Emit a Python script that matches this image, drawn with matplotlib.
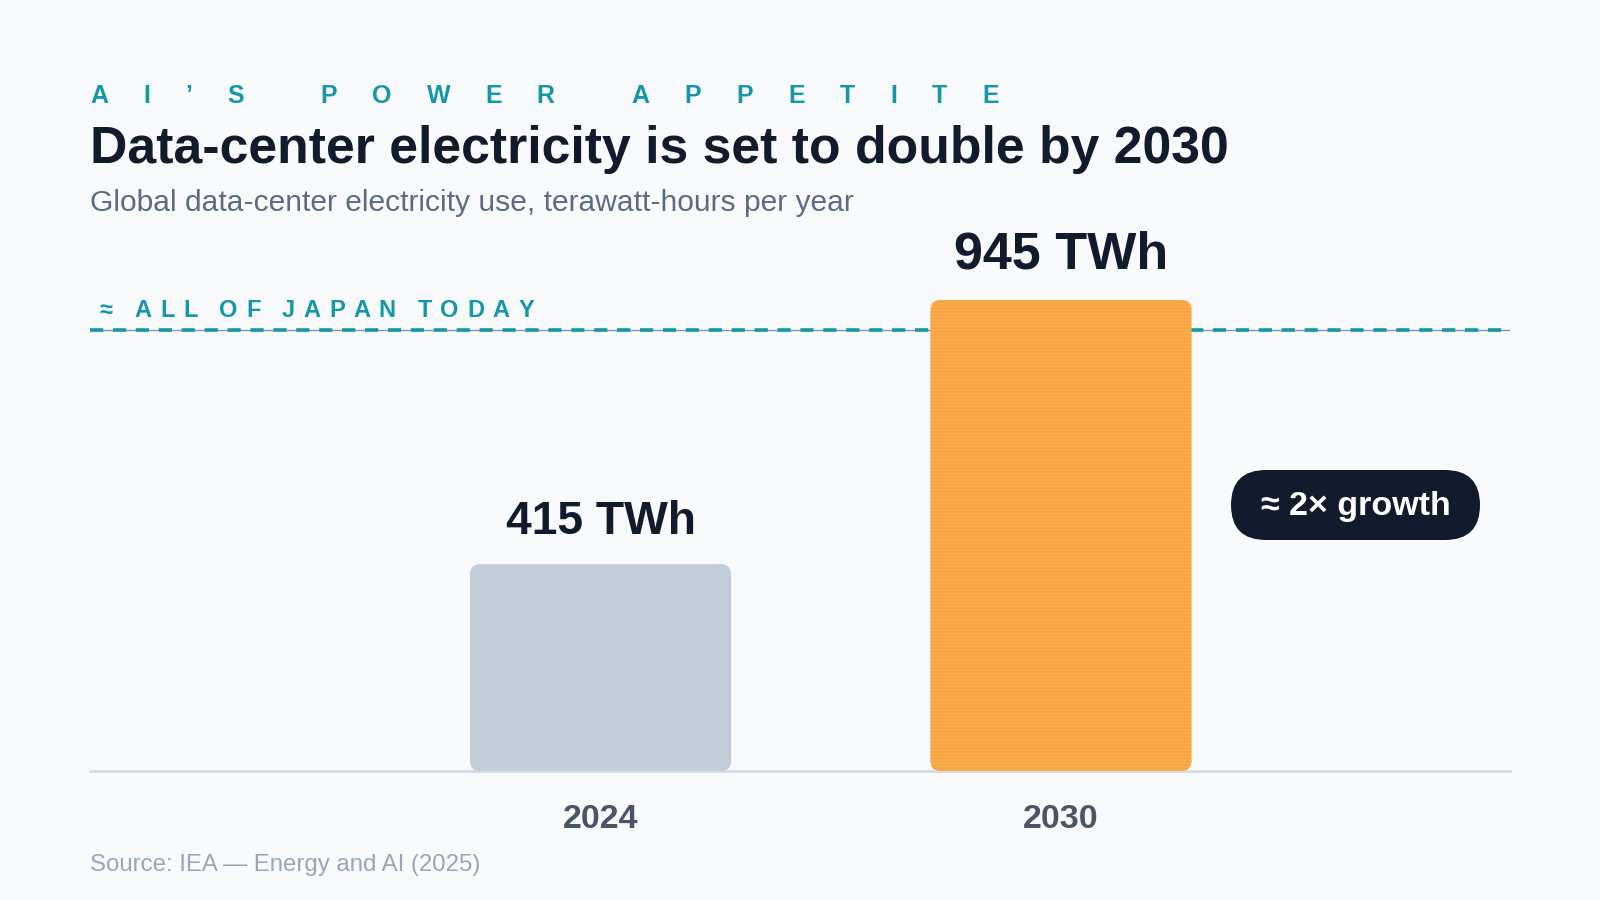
import matplotlib
matplotlib.use("Agg")
from matplotlib import pyplot as plt
from matplotlib.patches import FancyBboxPatch
from matplotlib.transforms import IdentityTransform

# data
years = ["2024", "2030"]
twh = [415, 945]
bar_colors = ["#C3CCD9", "#F8AB48"]
value_labels = ["415 TWh", "945 TWh"]
japan_twh = 885

plt.rcParams['font.family'] = ['Liberation Sans', 'DejaVu Sans']
plt.rcParams['hatch.linewidth'] = 0.6
plt.rcParams['lines.scale_dashes'] = False

W, H = 1600, 900
BG = "#F8FAFC"
TEAL = "#1497A8"
DARK = "#111B2B"

f = plt.figure(figsize=(16, 9), dpi=100, facecolor=BG)
ax = f.add_axes([90 / W, 1 - 771 / H, 1420 / W, 0.5538])
ax.set_facecolor(BG)
ax.set_xlim(-1.1086, 1.975)
ax.set_ylim(0, 1000)
for s in ax.spines.values():
    s.set_visible(False)
ax.set_yticks([])
x = list(range(len(years)))
ax.set_xticks(x)
ax.set_xticklabels(years, fontsize=24.5, fontweight='bold', color="#4A5568")
ax.tick_params(axis='x', length=0, pad=24)

# baseline and Japan reference line
ax.axhline(0, color="#D5DBE4", lw=2, zorder=1, clip_on=False)
ax.axhline(japan_twh, color="#8E959E", lw=1, zorder=1)
ax.axhline(japan_twh, color=TEAL, lw=2.6, dashes=(9.5, 7.0), zorder=2)

bw = 0.567
for i, v in enumerate(twh):
    if i == 1:
        kw = dict(hatch='-----', edgecolor="#F3A23E", lw=0)
    else:
        kw = dict(edgecolor='none', lw=0)
    p = FancyBboxPatch((x[i] - bw / 2, 0), bw, v,
                       boxstyle="round,pad=0,rounding_size=0.022",
                       mutation_aspect=920, facecolor=bar_colors[i], zorder=3, **kw)
    ax.add_patch(p)
    ax.annotate(value_labels[i], (x[i], v), xytext=(0, 23 if i == 1 else 21.6),
                textcoords='offset points', ha='center', va='baseline',
                fontsize=37.5 if i == 1 else 33.3, fontweight='bold', color=DARK)

f.canvas.draw()
r = f.canvas.get_renderer()


def tracked(x_px, y_px, s, track, word, **kw):
    for ch in s:
        if ch == ' ':
            x_px += word
            continue
        t = f.text(x_px / W, y_px / H, ch, ha='left', va='baseline', **kw)
        x_px += t.get_window_extent(r).width + track
    return x_px


# header
tracked(90, H - 103, "AI’S POWER APPETITE", 35, 42,
        fontsize=18, fontweight='bold', color=TEAL)
f.text(90 / W, 1 - 163 / H, "Data-center electricity is set to double by 2030",
       ha='left', va='baseline', fontsize=37.3, fontweight='bold', color=DARK)
f.text(90 / W, 1 - 211 / H, "Global data-center electricity use, terawatt-hours per year",
       ha='left', va='baseline', fontsize=21.6, color="#5B6B84")

# Japan label
jy = ax.transData.transform((0, japan_twh))[1] + 13
tracked(100, jy, "≈ ALL OF JAPAN TODAY", 8.5, 13,
        fontsize=17, fontweight='bold', color=TEAL)

# growth badge
bx0, by0, bw_px, bh_px = 1231, H - 540, 249, 70
pill = FancyBboxPatch((bx0, by0), bw_px, bh_px, boxstyle="round,pad=0,rounding_size=35",
                      transform=IdentityTransform(), facecolor=DARK, edgecolor='none')
f.patches.append(pill)
f.text((bx0 + bw_px / 2) / W, (by0 + bh_px / 2 - 2) / H, "≈ 2× growth", ha='center', va='center',
       fontsize=24.5, fontweight='bold', color='white')

f.text(90 / W, 1 - 865 / H, "Source: IEA — Energy and AI (2025)", ha='left', va='center',
       fontsize=17.3, color="#9AA5B8")

f.savefig("out.png", dpi=100, facecolor=BG)
